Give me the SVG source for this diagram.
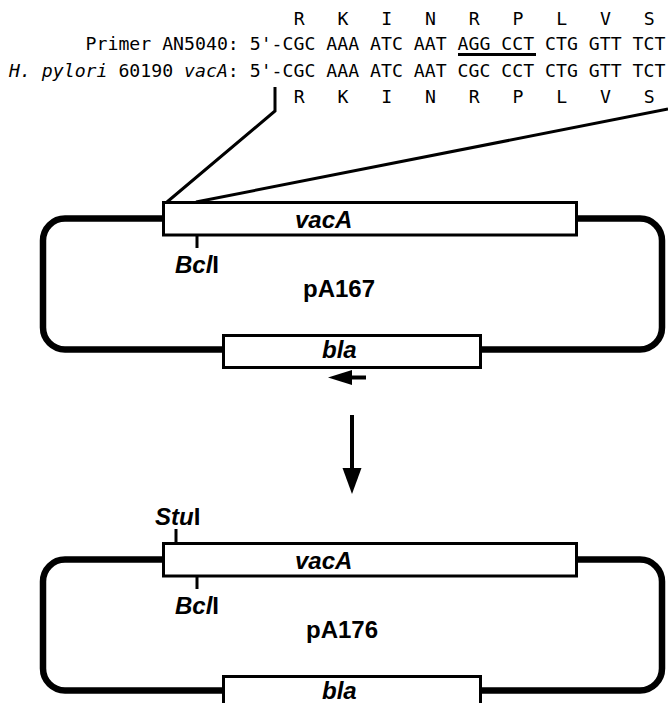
<svg xmlns="http://www.w3.org/2000/svg" width="668" height="703" viewBox="0 0 668 703">
  <style>
    .seq{font-family:"DejaVu Sans Mono","Liberation Mono",monospace;font-size:18.18px;fill:#000}
    .it{font-style:italic}
    .lbl{font-family:"Liberation Sans",Arial,sans-serif;font-weight:bold;font-size:24px;fill:#000}
    .backbone{fill:none;stroke:#000;stroke-width:6.5}
    .gene{fill:#fff;stroke:#000;stroke-width:3}
    .tick{stroke:#000;stroke-width:3}
    .line{fill:none;stroke:#000;stroke-width:3}
  </style>
  <rect width="668" height="703" fill="#fff"/>

  <!-- aligned primer / genomic sequence with translations (monospace grid, 10.95 px per column) -->
  <g id="sequence">
    <text class="seq" x="293.7" y="25" xml:space="preserve">R   K   I   N   R   P   L   V   S</text>
    <text class="seq" x="85.6" y="50" xml:space="preserve">Primer AN5040: 5'-CGC AAA ATC AAT AGG CCT CTG GTT TCT</text>
    <rect x="458" y="53" width="78" height="3" fill="#000"/>
    <text class="seq" x="9" y="77" xml:space="preserve"><tspan class="it">H. pylori</tspan> 60190 <tspan class="it">vacA</tspan>: 5'-CGC AAA ATC AAT CGC CCT CTG GTT TCT</text>
    <text class="seq" x="293.7" y="103" xml:space="preserve">R   K   I   N   R   P   L   V   S</text>
  </g>

  <!-- plasmid pA167 -->
  <g id="pA167">
    <rect class="backbone" x="43" y="218.5" width="619" height="131" rx="22"/>
    <rect class="gene" x="163.5" y="202.5" width="413" height="32.5"/>
    <text class="lbl it" x="295" y="228">vacA</text>
    <line class="tick" x1="197" y1="235" x2="197" y2="248"/>
    <text class="lbl" x="175" y="273"><tspan class="it">Bcl</tspan>I</text>
    <text class="lbl" x="303" y="297">pA167</text>
    <rect class="gene" x="223.5" y="335.5" width="257" height="32"/>
    <text class="lbl it" x="322" y="358">bla</text>
    <line x1="349" y1="377.5" x2="366" y2="377.5" stroke="#000" stroke-width="4"/>
    <polygon points="328,377.5 352,370 352,385" fill="#000"/>
  </g>

  <!-- plasmid pA176 -->
  <g id="pA176" transform="translate(0,341)">
    <rect class="backbone" x="43" y="218.5" width="619" height="131" rx="22"/>
    <rect class="gene" x="163.5" y="202.5" width="413" height="32.5"/>
    <text class="lbl it" x="295" y="228">vacA</text>
    <line class="tick" x1="176" y1="188" x2="176" y2="202"/>
    <text class="lbl" x="155" y="184"><tspan class="it">Stu</tspan>I</text>
    <line class="tick" x1="197" y1="235" x2="197" y2="248"/>
    <text class="lbl" x="175" y="273"><tspan class="it">Bcl</tspan>I</text>
    <text class="lbl" x="306" y="297">pA176</text>
    <rect class="gene" x="223.5" y="335.5" width="257" height="32"/>
    <text class="lbl it" x="322" y="358">bla</text>
  </g>

  <!-- callout lines and conversion arrow -->
  <g id="connectors">
    <polyline class="line" points="275,87 275,111 167,202"/>
    <line class="line" x1="668" y1="109" x2="196" y2="202"/>
    <line x1="352" y1="415" x2="352" y2="472" stroke="#000" stroke-width="4"/>
    <polygon points="342.5,468 361.5,468 352,494" fill="#000"/>
  </g>
</svg>
